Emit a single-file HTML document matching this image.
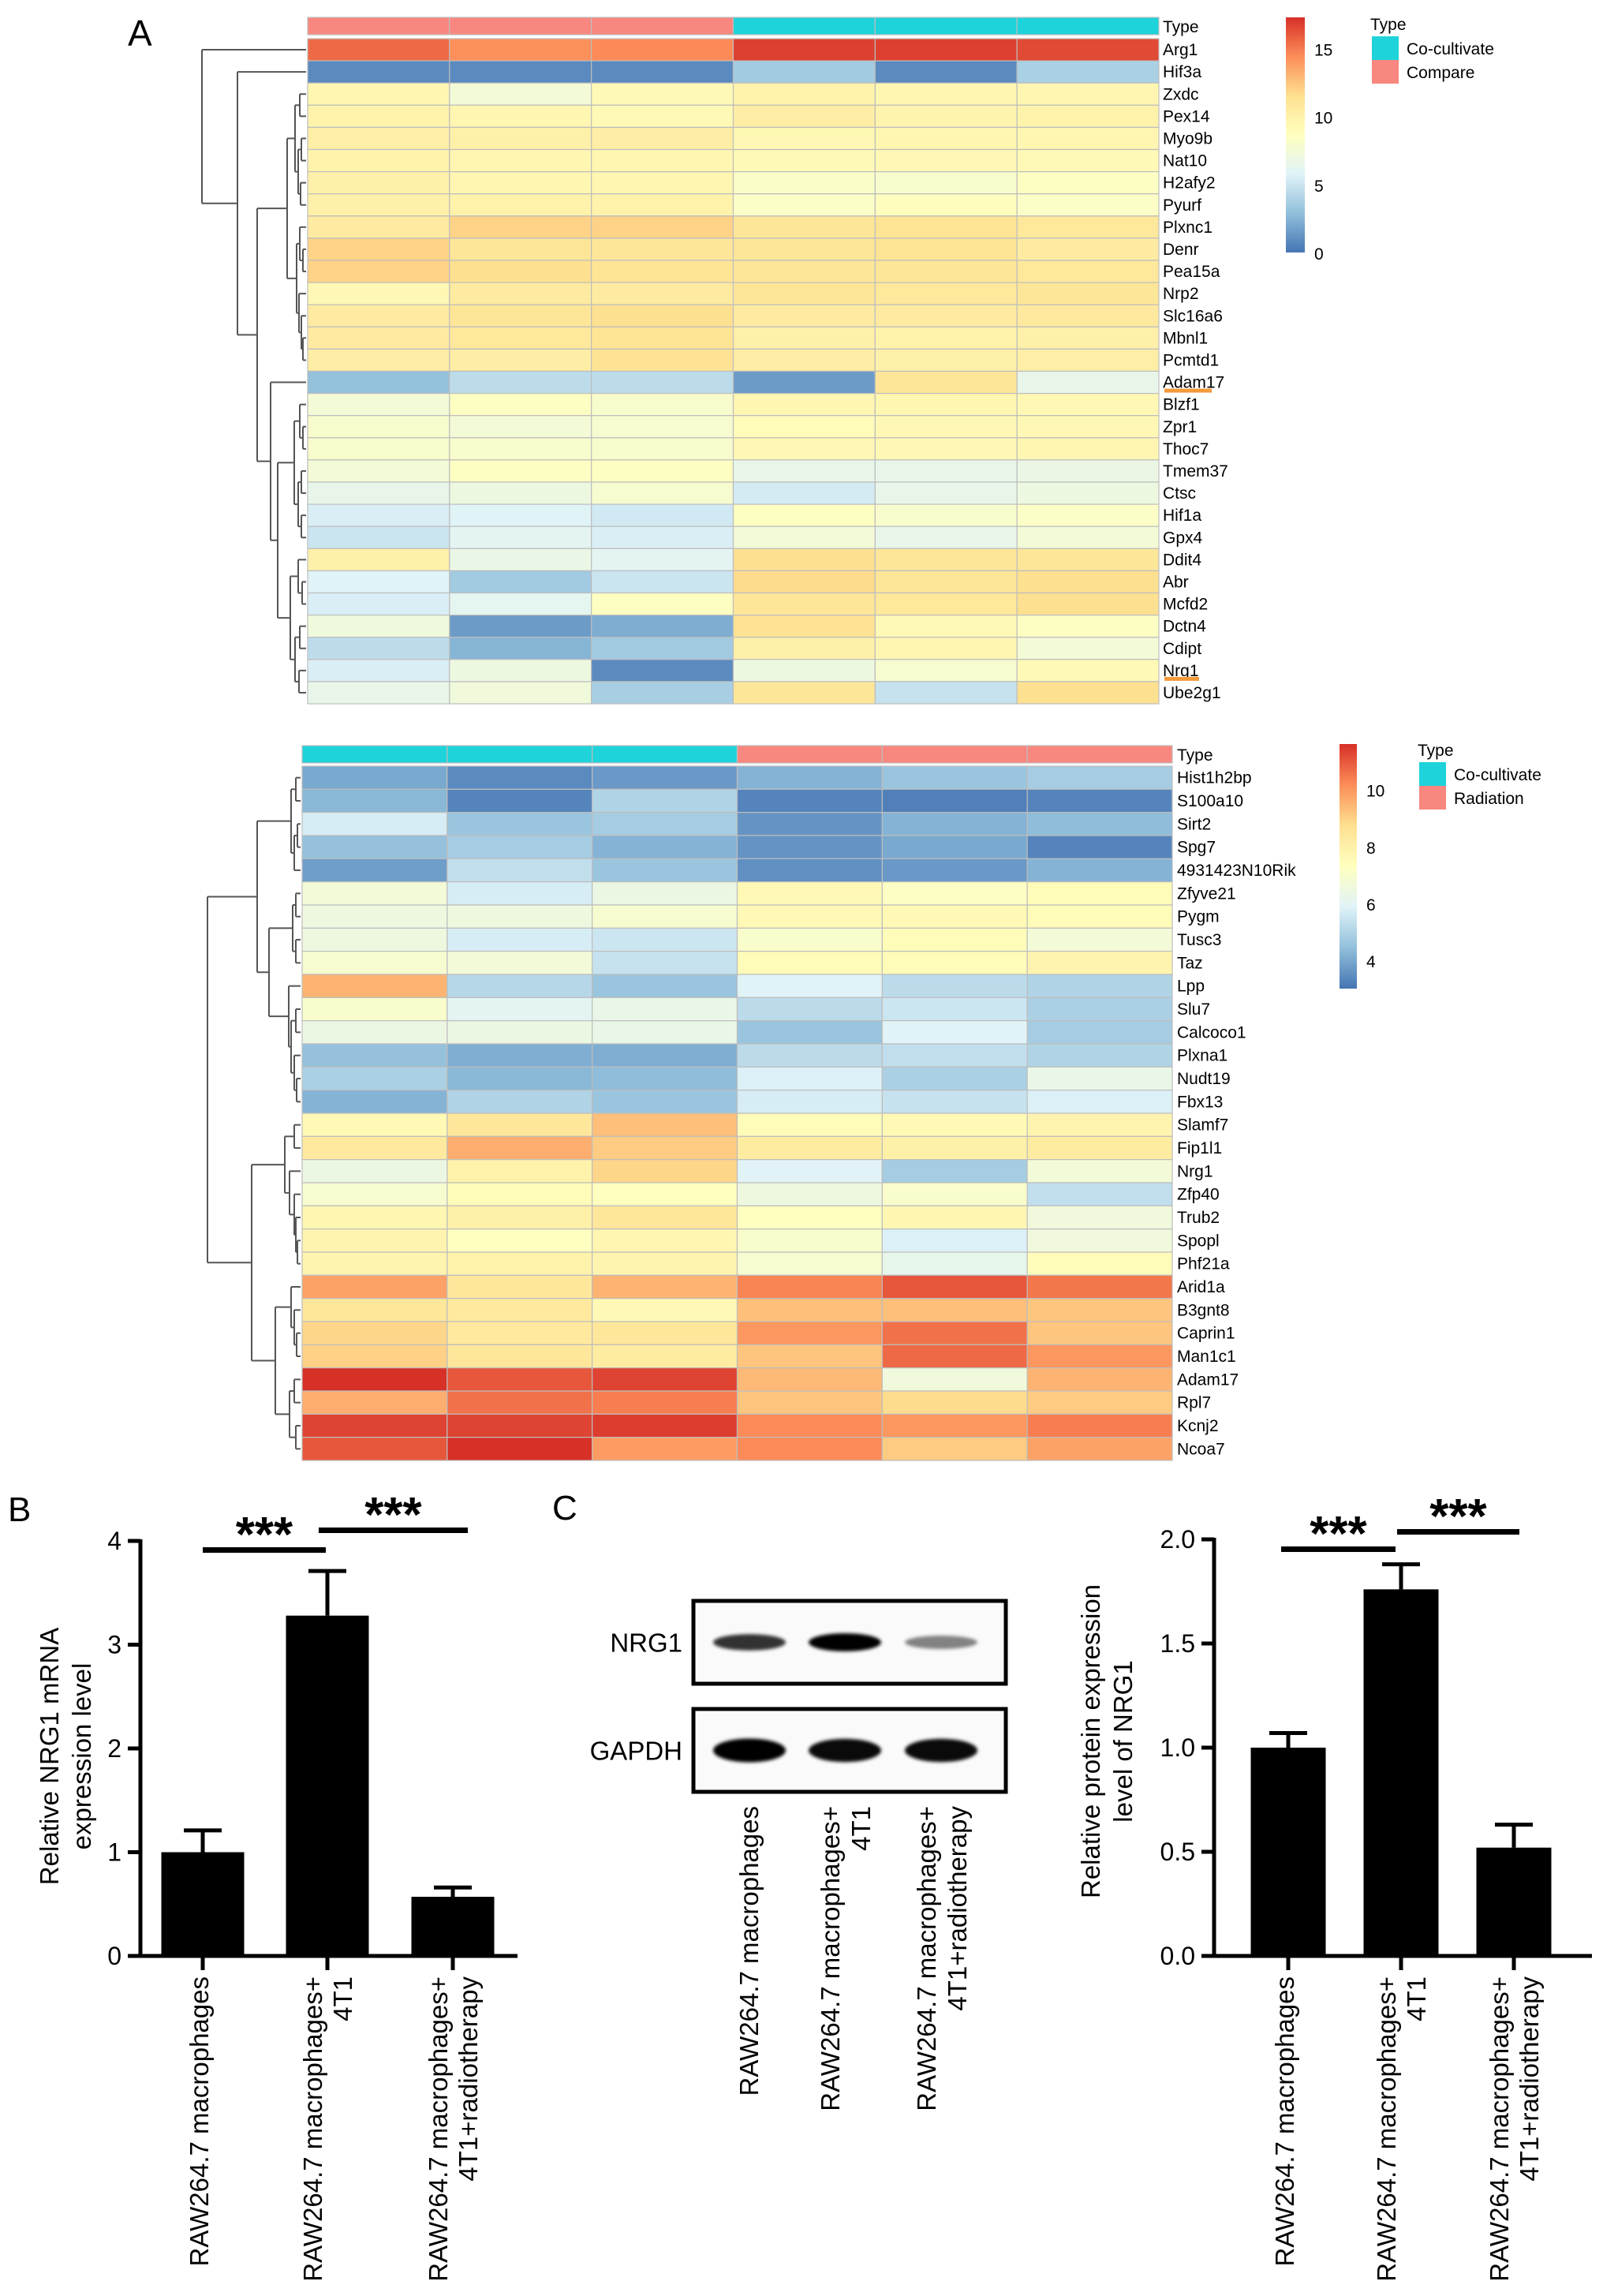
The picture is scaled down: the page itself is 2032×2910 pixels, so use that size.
<!DOCTYPE html>
<html><head><meta charset="utf-8"><style>
html,body{margin:0;padding:0;background:#fff;}
svg{display:block;}
text{font-family:"Liberation Sans",Arial,sans-serif;}
.g{font-family:"Liberation Sans Narrow","Liberation Sans",sans-serif;font-size:21px;}
</style></head><body>
<svg id="fig" width="2032" height="2910" viewBox="0 0 2032 2910" xmlns="http://www.w3.org/2000/svg">
<defs>
<linearGradient id="cb" x1="0" y1="1" x2="0" y2="0">
<stop offset="0" stop-color="#4575B4"/><stop offset="0.1667" stop-color="#91BFDB"/><stop offset="0.3333" stop-color="#E0F3F8"/><stop offset="0.5" stop-color="#FFFFBF"/><stop offset="0.6667" stop-color="#FEE090"/><stop offset="0.8333" stop-color="#FC8D59"/><stop offset="1" stop-color="#D73027"/>
</linearGradient>
<filter id="blur" x="-20%" y="-50%" width="140%" height="200%"><feGaussianBlur stdDeviation="2.2"/></filter>
</defs>
<text x="162" y="58" font-size="46">A</text>
<text x="10" y="1928" font-size="44">B</text>
<text x="700" y="1926" font-size="44">C</text>
<g id="layer"></g>
</svg>
<script>
// ---------- Heatmap 1 data ----------
const genes1 = ["Arg1","Hif3a","Zxdc","Pex14","Myo9b","Nat10","H2afy2","Pyurf","Plxnc1","Denr","Pea15a","Nrp2","Slc16a6","Mbnl1","Pcmtd1","Adam17","Blzf1","Zpr1","Thoc7","Tmem37","Ctsc","Hif1a","Gpx4","Ddit4","Abr","Mcfd2","Dctn4","Cdipt","Nrg1","Ube2g1"];
const types1 = ["Compare","Compare","Compare","Co-cultivate","Co-cultivate","Co-cultivate"];
const values1 = [
[15.5,14.3,14.5,16.8,16.8,16.5],[0.8,0.8,0.8,3.5,0.8,3.8],[9.5,7.5,9.2,9.8,9.5,9.5],[9.8,9.5,9.2,10.3,9.7,9.8],
[10.2,10,10.3,9.3,9.5,9.5],[9.8,9.5,9.5,9.2,9.3,9.2],[10,9.5,9.5,8.2,8.0,8.5],[10,9.8,9.8,8.3,8.8,8.3],
[10.5,12,12,11,11.2,10.8],[12,11,11,11,11.2,10.5],[12,11.5,11.2,11,11,10.8],[9.3,10.5,10.5,11,10.8,11],
[10.5,11,11.5,10.5,10.5,10.7],[10.5,10.8,11.2,10,9.8,10],[10.3,10.3,11.3,10.3,10,10.2],[3,4.5,4.5,1.5,11,6.5],
[7.5,8.5,8,9.5,9.5,9.3],[8,7.5,7.8,9,9.3,9.3],[8,8,8,9.3,9.3,9.5],[7.5,8.5,8.5,6.5,6.5,6.8],
[6.5,7,7.8,5.3,6.5,7],[5.5,5.8,5.2,8.5,8,8.3],[5,6,5.5,7.5,6.5,7.5],[10,6.7,6,11.5,11,11],
[5.8,3.5,5,11.7,11,11.5],[5.5,6.2,8.5,11,10.8,11.5],[7.2,1.5,2.2,11.3,9.2,8.5],[4.5,2.5,3.5,10,9.5,7.5],
[5.5,7,0.8,7,7.8,9.2],[6.5,7.3,3.7,11,4.8,11.5]];
const ticks1 = [0,5,10,15];
const range1 = [0,17.3];
// ---------- Heatmap 2 data ----------
const genes2 = ["Hist1h2bp","S100a10","Sirt2","Spg7","4931423N10Rik","Zfyve21","Pygm","Tusc3","Taz","Lpp","Slu7","Calcoco1","Plxna1","Nudt19","Fbx13","Slamf7","Fip1l1","Nrg1","Zfp40","Trub2","Spopl","Phf21a","Arid1a","B3gnt8","Caprin1","Man1c1","Adam17","Rpl7","Kcnj2","Ncoa7"];
const types2 = ["Co-cultivate","Co-cultivate","Co-cultivate","Radiation","Radiation","Radiation"];
const values2 = [
[4.0,3.4,3.7,4.2,4.6,4.8],[4.3,3.3,5.0,3.3,3.2,3.3],[5.7,4.6,4.8,3.6,4.2,4.4],[4.5,4.8,4.2,3.6,4.0,3.3],
[3.8,5.3,4.6,3.5,3.7,4.2],[6.7,5.7,6.4,7.6,7.2,7.5],[6.5,6.5,6.9,7.6,7.6,7.5],[6.5,5.7,5.5,7.0,7.5,6.7],
[6.9,6.7,5.4,7.5,7.5,7.8],[9.5,5.1,4.6,5.9,5.2,5.0],[7.0,6.0,6.3,5.2,5.5,4.9],[6.4,6.4,6.3,4.6,5.9,4.8],
[4.5,4.1,4.1,5.2,5.3,5.0],[4.9,4.3,4.4,5.8,4.9,6.3],[4.2,5.0,4.6,5.7,5.4,5.8],[7.6,8.4,9.3,7.5,7.6,7.8],
[8.3,9.6,9.1,8.2,8.0,8.2],[6.4,7.9,8.9,5.9,4.8,6.7],[6.9,7.5,7.3,6.5,7.0,5.3],[7.7,8.0,8.4,7.3,7.7,6.6],
[7.8,7.3,7.7,7.0,5.8,6.6],[7.8,7.9,7.8,6.9,6.2,7.5],[9.8,8.4,9.5,10.3,11.0,10.5],[8.4,8.3,7.6,9.3,9.3,9.2],
[8.9,8.3,8.4,10.0,10.6,9.2],[9.0,8.4,8.2,9.2,10.7,10.0],[11.6,11.0,11.3,9.4,6.6,9.5],[9.6,10.6,10.4,9.2,8.8,9.1],
[11.3,11.3,11.4,10.2,10.0,10.4],[11.0,11.7,9.9,10.2,9.1,9.8]];
const ticks2 = [4,6,8,10];
const range2 = [3.0,11.6];
// ---------- Bar chart B ----------
const catsB = [["RAW264.7 macrophages"],["RAW264.7 macrophages+","4T1"],["RAW264.7 macrophages+","4T1+radiotherapy"]];
const meanB = [1.0,3.28,0.57];
const errB = [1.21,3.71,0.66];
const ticksB = ["0","1","2","3","4"];
const tickValsB = [0,1,2,3,4];
// ---------- Bar chart C ----------
const meanC = [1.0,1.76,0.52];
const errC = [1.07,1.88,0.63];
const ticksC = ["0.0","0.5","1.0","1.5","2.0"];
const tickValsC = [0,0.5,1.0,1.5,2.0];
const bandNRG1 = [0.75,1.0,0.35];
const bandGAPDH = [1.0,0.95,0.95];

const NS="http://www.w3.org/2000/svg";
const layer=document.getElementById('layer');
function mk(tag,attrs,parent){const e=document.createElementNS(NS,tag);for(const k in attrs)e.setAttribute(k,attrs[k]);(parent||layer).appendChild(e);return e;}
const pal=["#4575B4","#91BFDB","#E0F3F8","#FFFFBF","#FEE090","#FC8D59","#D73027"];
function hx(c){return [parseInt(c.substr(1,2),16),parseInt(c.substr(3,2),16),parseInt(c.substr(5,2),16)];}
function cmap(v,r){let t=(v-r[0])/(r[1]-r[0]);t=Math.max(0,Math.min(1,t))*6;const i=Math.min(5,Math.floor(t));const f=t-i;const a=hx(pal[i]),b=hx(pal[i+1]);return "rgb("+a.map((x,k)=>Math.round(x+(b[k]-x)*f)).join(",")+")";}
const typeCol={"Compare":"#F8877F","Radiation":"#F8877F","Co-cultivate":"#1ED3DA"};

function heatmap(cfg){
  const g=mk('g',{});
  
  
  const cw=(cfg.x1-cfg.x0)/6, rh=(cfg.y1-cfg.y0)/cfg.genes.length;
  cfg.types.forEach((t,j)=>{const r=mk('rect',{x:cfg.x0+j*cw,y:cfg.ty0,width:cw,height:cfg.ty1-cfg.ty0,fill:typeCol[t],stroke:"#bdbdbd","stroke-width":1.2},g);
    
    });
  const tl=mk('text',{x:cfg.lx,y:(cfg.ty0+cfg.ty1)/2+8,class:'g','font-size':23},g);tl.textContent="Type";
  
  
  cfg.values.forEach((row,i)=>{row.forEach((v,j)=>{
    const r=mk('rect',{x:cfg.x0+j*cw,y:cfg.y0+i*rh,width:cw,height:rh,fill:cmap(v,cfg.range),stroke:"#bdbdbd","stroke-width":1.2},g);
    
    });
    const t=mk('text',{x:cfg.lx,y:cfg.y0+(i+0.5)*rh+7,class:'g'},g);t.textContent=cfg.genes[i];
    
    
  });
  const cb=mk('rect',{x:cfg.cb[0],y:cfg.cb[1],width:cfg.cb[2],height:cfg.cb[3],fill:"url(#cb)"},g);
  
  
  cfg.ticks.forEach(tv=>{const y=cfg.cb[1]+cfg.cb[3]*(1-(tv-cfg.range[0])/(cfg.range[1]-cfg.range[0]));
    const t=mk('text',{x:cfg.cb[0]+cfg.cb[2]+12,y:y+9,class:'g','font-size':25},g);t.textContent=tv;
    
    });
  const L=cfg.leg;
  const lt=mk('text',{x:L[0],y:L[1]+10,class:'g','font-size':24},g);lt.textContent="Type";
  
  
  cfg.legItems.forEach((it,k)=>{const y=L[1]+18+k*30;
    const r=mk('rect',{x:L[0]+2,y:y,width:34,height:30,fill:typeCol[it]},g);
    
    
    const t=mk('text',{x:L[0]+46,y:y+23,class:'g','font-size':25},g);t.textContent=it;
    
    });
  function draw(node){ if(typeof node==='number') return {y:cfg.y0+(node+0.5)*rh,x:cfg.x0-2};
    const ch=node.c.map(draw); const x=cfg.x0-2-node.h;
    ch.forEach(c=>mk('path',{d:`M${c.x},${c.y}H${x}`,stroke:"#555","stroke-width":2,fill:"none"},g));
    mk('path',{d:`M${x},${ch[0].y}V${ch[ch.length-1].y}`,stroke:"#555","stroke-width":2,fill:"none"},g);
    return {x:x,y:(ch[0].y+ch[ch.length-1].y)/2};}
  draw(cfg.tree);
  return {cw,rh};
}
const N=(h,...c)=>({h,c});
const tree1=N(132,0,N(87,1,N(62,
  N(24,N(14,N(8,2,3),N(10,N(6,4,5),N(7,6,7))),N(12,N(8,8,N(4,9,10)),N(9,11,N(6,12,N(4,13,14))))),
  N(45,15,N(36,N(15,N(8,16,N(4,17,18)),N(10,N(6,19,20),N(6,21,22))),N(20,N(10,23,N(5,24,25)),N(14,N(8,26,27),N(9,28,29))))))));
const tree2=N(118,
  N(55,N(12,N(6,0,1),N(8,N(4,2,3),4)),N(40,N(10,N(6,5,6),N(6,7,8)),N(15,9,N(12,N(6,10,11),N(8,12,N(5,13,14)))))),
  N(62,N(20,N(8,15,16),N(14,17,N(8,18,N(6,19,N(4,20,21))))),N(32,N(12,22,N(8,23,N(5,24,25))),N(14,N(8,26,27),N(6,28,29)))));
const h1=heatmap({name:'heatmap-top',genes:genes1,types:types1,values:values1,range:range1,ticks:ticks1,x0:390,x1:1469,ty0:22,ty1:44,y0:49,y1:892,lx:1474,cb:[1630,22,24,298],leg:[1737,28],legItems:["Co-cultivate","Compare"],tree:tree1});
const h2=heatmap({name:'heatmap-bottom',genes:genes2,types:types2,values:values2,range:range2,ticks:ticks2,x0:383,x1:1486,ty0:945,ty1:967,y0:971,y1:1851,lx:1492,cb:[1698,943,22,310],leg:[1797,948],legItems:["Co-cultivate","Radiation"],tree:tree2});
[[15,'adam17-highlight'],[28,'nrg1-highlight']].forEach(([i,n])=>{const y=49+(i+1)*h1.rh-6;
  const r=mk('rect',{x:1476,y:y,width:i===15?60:44,height:5,fill:"#F39A3C"});
  
  });

function barChart(c){
  const g=mk('g',{});
  
  
  const ys=v=>c.y0-(v-c.vmin)/(c.vmax-c.vmin)*(c.y0-c.y1);
  mk('path',{d:`M${c.ax},${c.y1-2}V${c.y0}H${c.xend}`,stroke:"#000","stroke-width":5,fill:"none"},g);
  c.tickVals.forEach((tv,k)=>{const y=ys(tv);mk('path',{d:`M${c.ax-16},${y}H${c.ax}`,stroke:"#000","stroke-width":5},g);
    const t=mk('text',{x:c.ax-24,y:y+11,'font-size':32,'text-anchor':'end'},g);t.textContent=c.ticks[k];
    
    });
  c.mean.forEach((m,i)=>{const cx=c.cx[i];
    const b=mk('rect',{x:cx-c.bw/2,y:ys(m),width:c.bw,height:c.y0-ys(m),fill:"#000"},g);
    
    
    const e=mk('path',{d:`M${cx},${ys(m)}V${ys(c.err[i])}M${cx-24},${ys(c.err[i])}H${cx+24}`,stroke:"#000","stroke-width":5,fill:"none"},g);
    
    
    mk('path',{d:`M${cx},${c.y0}V${c.y0+18}`,stroke:"#000","stroke-width":5},g);
    catsB[i].forEach((ln,k)=>{const x=cx-4+k*38+(catsB[i].length>1?-14:0);
      const t=mk('text',{x:0,y:0,'font-size':33,'text-anchor':'end',transform:`translate(${x+11},${c.y0+26}) rotate(-90)`},g);t.textContent=ln;
      
      });
  });
  c.sig.forEach(s=>{const l=mk('rect',{x:s[0],y:s[2]-3,width:s[1]-s[0],height:7,fill:"#000"},g);
    
    
    const t=mk('text',{x:(s[0]+s[1])/2,y:s[2]+2,'font-size':62,'font-weight':'bold','text-anchor':'middle'},g);t.textContent="***";
    
    });
  c.title.forEach((ln,k)=>{const t=mk('text',{x:0,y:0,'font-size':33,'text-anchor':'middle',transform:`translate(${c.tx+k*41},${c.ty}) rotate(-90)`},g);t.textContent=ln;
    
    });
}
barChart({name:'chart-b',ax:178,y0:2479,y1:1953,vmin:0,vmax:4,xend:656,tickVals:tickValsB,ticks:ticksB,mean:meanB,err:errB,cx:[257,415,574],bw:105,
  sig:[[257,413,1964],[404,593,1939]],title:["Relative NRG1 mRNA","expression level"],tx:74,ty:2226});
barChart({name:'chart-c',ax:1539,y0:2479,y1:1951,vmin:0,vmax:2,xend:2018,tickVals:tickValsC,ticks:ticksC,mean:meanC,err:errC,cx:[1633,1776,1919],bw:95,
  sig:[[1624,1769,1963],[1771,1926,1941]],title:["Relative protein expression","level of NRG1"],tx:1394,ty:2207});

const wb=mk('g',{});


const lanes=[950,1071,1193];
[[2029,2134,bandNRG1,"NRG1",23],[2166,2271,bandGAPDH,"GAPDH",30]].forEach(([y0,y1,arr,lab,bh])=>{
  const r=mk('rect',{x:879,y:y0,width:396,height:y1-y0,fill:"#fafafa",stroke:"#000","stroke-width":5},wb);
  
  
  arr.forEach((v,i)=>{const e=mk('ellipse',{cx:lanes[i],cy:(y0+y1)/2,rx:46,ry:bh/2*(0.6+0.4*v),fill:`rgba(0,0,0,${0.2+0.8*v})`,filter:"url(#blur)"},wb);
    
    });
  const t=mk('text',{x:865,y:(y0+y1)/2+12,'font-size':33,'text-anchor':'end'},wb);t.textContent=lab;
  
  
});
lanes.forEach((cx,i)=>{catsB[i].forEach((ln,k)=>{const x=catsB[i].length>1?cx-18+k*39:cx;
  const t=mk('text',{x:0,y:0,'font-size':33,'text-anchor':'end',transform:`translate(${x+11},${2289}) rotate(-90)`},wb);t.textContent=ln;
  
  });});
</script>
</body></html>
